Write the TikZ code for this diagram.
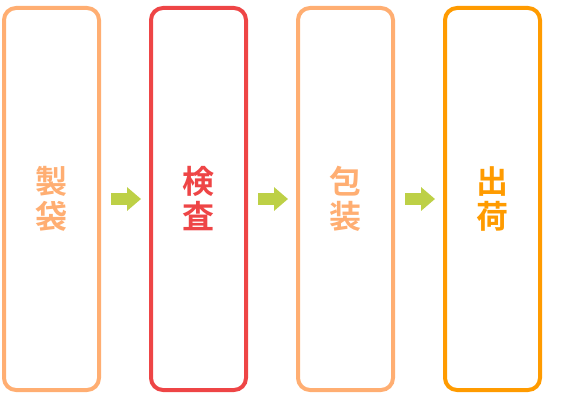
\documentclass[tikz,border=0pt]{standalone}
\usepackage{fontspec}
\newfontfamily\cjk{Noto Sans CJK JP}[BoldFont={Noto Sans CJK JP Bold}]
\usetikzlibrary{positioning,arrows.meta}

\definecolor{StepPeach}{HTML}{FFAE72}
\definecolor{StepRed}{HTML}{EE4546}
\definecolor{StepOrange}{HTML}{FF9B00}
\definecolor{FlowGreen}{HTML}{BDD046}

\tikzset{
	stepbox/.style={draw=#1, text=#1, line width=4pt, rounded corners=12pt,
		minimum width=95pt, minimum height=382pt, outer sep=0pt, align=center,
		font=\cjk\bfseries\fontsize{32}{35}\selectfont},
	flow/.style={draw=FlowGreen, line width=12pt,
		-{Triangle[length=14pt,width=23pt]}, shorten <=12pt, shorten >=10pt}
}

\begin{document}
\begin{tikzpicture}
	[x=1pt, y=1pt, node distance=52pt]

	\useasboundingbox (0,0) rectangle (580,400);

	% process steps
	\begin{scope}
		\node[stepbox=StepPeach] (seitai) at (51.5,201) {製\\袋};
		\node[stepbox=StepRed, right=of seitai] (kensa) {検\\査};
		\node[stepbox=StepPeach, right=of kensa] (housou) {包\\装};
		\node[stepbox=StepOrange, right=of housou] (shukka) {出\\荷};
	\end{scope}

	% arrows between steps
	\begin{scope}
		\foreach \a/\b in {seitai/kensa, kensa/housou, housou/shukka} {
			\draw[flow] (\a.east) -- (\b.west);
		}
	\end{scope}

\end{tikzpicture}
\end{document}
